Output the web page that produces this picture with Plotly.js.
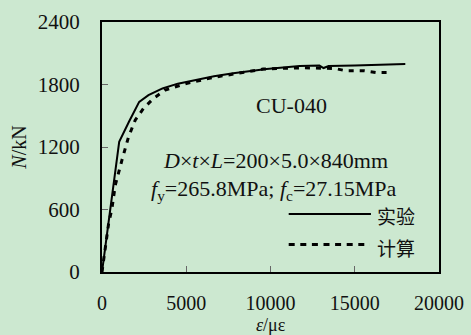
<!DOCTYPE html>
<html>
<head>
<meta charset="utf-8">
<script src="https://cdn.plot.ly/plotly-3.0.1.min.js"></script>
<style>
  html, body { margin: 0; padding: 0; background: rgb(204,232,208); }
  #chart { width: 471px; height: 335px; }
</style>
</head>
<body>
<div id="chart"></div>
<script>
// 实验 (test) curve
const expStrain = [0, 965, 1020, 1600, 2207, 2757, 3590, 4500, 5562, 6645, 7787, 9763, 11734, 12900, 13150, 13450, 15000, 16500, 18000];
const expLoad   = [0, 1168, 1250, 1442, 1633, 1698, 1762, 1808, 1842, 1880, 1907, 1948, 1977, 1982, 1958, 1978, 1982, 1989, 1996];
// 计算 (calculated) curve
const calcStrain = [0, 393, 590, 787, 1183, 1574, 1970, 2461, 3053, 3745, 5000, 6603, 7988, 9562, 10355, 12000, 13806, 14497, 15577, 16272, 17200];
const calcLoad   = [0, 465, 609, 833, 1073, 1297, 1458, 1570, 1666, 1746, 1810, 1868, 1905, 1948, 1954, 1960, 1954, 1931, 1931, 1915, 1915];
// axis ticks
const xTicks = [0, 5000, 10000, 15000, 20000];
const yTicks = [0, 600, 1200, 1800, 2400];
const seriesNames = ['实验', '计算'];
const xTitle = '<i>ε</i>/με';
const yTitle = '<i>N</i>/kN';

const serif = "'Liberation Serif', 'Times New Roman', 'Noto Sans CJK SC', serif";
const cjk = "'Noto Sans CJK SC', 'Liberation Serif', serif";
const bg = 'rgb(204,232,208)';

const traces = [
  { x: expStrain, y: expLoad, name: seriesNames[0], mode: 'lines',
    line: { color: '#000', width: 2 }, showlegend: false },
  { x: calcStrain, y: calcLoad, name: seriesNames[1], mode: 'lines',
    line: { color: '#000', width: 3, dash: '5px,6px' }, showlegend: false }
];

const layout = {
  width: 471, height: 335,
  paper_bgcolor: bg, plot_bgcolor: bg,
  margin: { l: 102, r: 32, t: 22, b: 63, pad: 0 },
  font: { family: serif, size: 20, color: '#111' },
  xaxis: {
    range: [0, 20000], tickvals: xTicks, ticktext: xTicks.map(String),
    ticks: 'inside', ticklen: 6, tickwidth: 1, tickcolor: '#666',
    showline: true, linecolor: '#000', linewidth: 2, mirror: true,
    showgrid: false, zeroline: false,
    ticklabelstandoff: 12,
    tickfont: { family: serif, size: 20, color: '#111' }
  },
  yaxis: {
    range: [0, 2400], tickvals: yTicks, ticktext: yTicks.map(String),
    ticks: 'inside', ticklen: 6, tickwidth: 1, tickcolor: '#666',
    showline: true, linecolor: '#000', linewidth: 2, mirror: true,
    showgrid: false, zeroline: false,
    ticklabelstandoff: 16,
    tickfont: { family: serif, size: 21, color: '#111' },
    title: { text: yTitle, font: { family: serif, size: 20, color: '#111' }, standoff: 6 }
  },
  shapes: [
    { type: 'line', xref: 'paper', yref: 'paper', x0: 0.554, x1: 0.798, y0: 0.232, y1: 0.232,
      line: { color: '#000', width: 2 } },
    { type: 'line', xref: 'paper', yref: 'paper', x0: 0.554, x1: 0.795, y0: 0.11, y1: 0.11,
      line: { color: '#000', width: 3, dash: '6px,5.6px' } }
  ],
  annotations: [
    { xref: 'paper', yref: 'paper', x: 0.5, y: -0.212, text: xTitle, showarrow: false,
      xanchor: 'center', yanchor: 'middle', font: { family: serif, size: 18, color: '#111' } },
    { xref: 'paper', yref: 'paper', x: 0.562, y: 0.665, text: 'CU-040', showarrow: false,
      xanchor: 'center', yanchor: 'middle', font: { family: serif, size: 22, color: '#111' } },
    { xref: 'paper', yref: 'paper', x: 0.514, y: 0.447, text: '<i>D</i>×<i>t</i>×<i>L</i>=200×5.0×840mm', showarrow: false,
      xanchor: 'center', yanchor: 'middle', font: { family: serif, size: 22, color: '#111' } },
    { xref: 'paper', yref: 'paper', x: 0.510, y: 0.327, text: '<i>f</i><sub>y</sub>=265.8MPa; <i>f</i><sub>c</sub>=27.15MPa', showarrow: false,
      xanchor: 'center', yanchor: 'middle', font: { family: serif, size: 22, color: '#111' } },
    { xref: 'paper', yref: 'paper', x: 0.811, y: 0.228, text: seriesNames[0], showarrow: false,
      xanchor: 'left', yanchor: 'middle', font: { family: cjk, size: 19, color: '#111' } },
    { xref: 'paper', yref: 'paper', x: 0.811, y: 0.10, text: seriesNames[1], showarrow: false,
      xanchor: 'left', yanchor: 'middle', font: { family: cjk, size: 19, color: '#111' } }
  ]
};

Plotly.newPlot('chart', traces, layout, { staticPlot: true, displayModeBar: false });
</script>
</body>
</html>
